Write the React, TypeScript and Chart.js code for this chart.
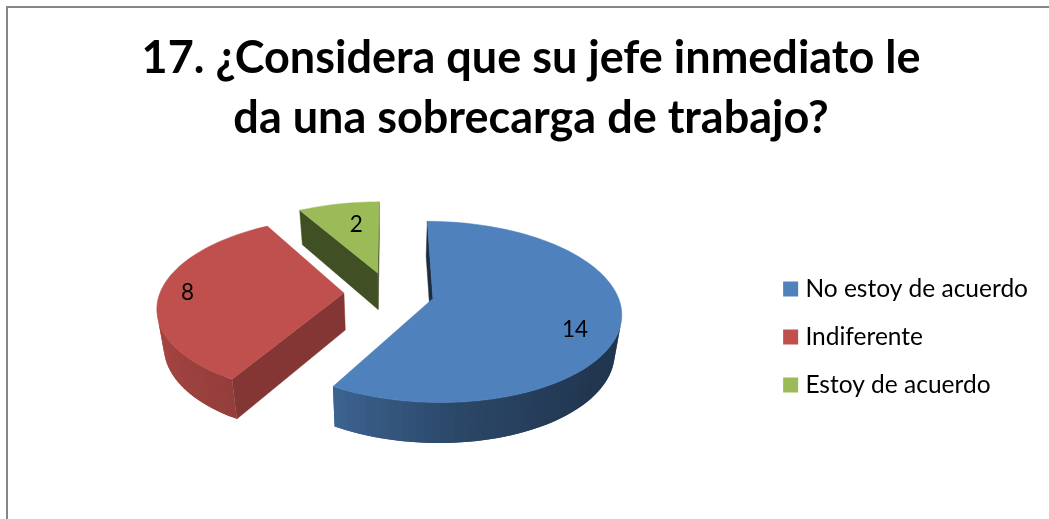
import React, { useEffect, useRef } from "react";
import { Chart, registerables } from "chart.js";

Chart.register(...registerables);

const titleLines = ["17. ¿Considera que su jefe inmediato le", "da una sobrecarga de trabajo?"];
const categories = ["No estoy de acuerdo", "Indiferente", "Estoy de acuerdo"];
const values = [14, 8, 2];
const colors = ["#4f81bd", "#c0504d", "#9bbb59"];

const radialShade = [0.35, 0.68, 0.42];
const labelRadius = [0.79, 0.85, 0.66];
const labelTurn = [10, 0, 3];
const drawOrder = [2, 1, 0];
const curveShade: [number, number][] = [
  [90, 0.42], [130, 0.42], [150, 0.47], [175, 0.55], [210, 0.77], [240, 0.84], [270, 0.9], [360, 0.9],
];

const ORIGIN = 8;
const CX = 389, CY = 293, RX = 184, RY = 87, PERSPECTIVE = 0.146, EXPLODE = 0.245, DEPTH = 37, BASE = 0.97;
const FONT = "Lato";

type Pt = [number, number];

function project(u: number, v: number, bottom: boolean): Pt {
  const w = 1 - PERSPECTIVE * v;
  const s = bottom ? BASE : 1;
  return [CX + (RX * s * u) / w - ORIGIN, CY + (RY * s * v + (bottom ? DEPTH : 0)) / w - ORIGIN];
}

function shadeFor(deg: number) {
  for (let i = 1; i < curveShade.length; i++) {
    const [a, fa] = curveShade[i - 1];
    const [b, fb] = curveShade[i];
    if (deg <= b) return fa + ((fb - fa) * Math.max(0, deg - a)) / (b - a);
  }
  return 0.9;
}

function tint(hex: string, f: number) {
  const n = parseInt(hex.slice(1), 16);
  return `rgb(${Math.round((n >> 16) * f)},${Math.round(((n >> 8) & 255) * f)},${Math.round((n & 255) * f)})`;
}

function fillPoly(ctx: CanvasRenderingContext2D, pts: Pt[], color: string, stroke = true) {
  ctx.beginPath();
  pts.forEach((p, i) => (i ? ctx.lineTo(p[0], p[1]) : ctx.moveTo(p[0], p[1])));
  ctx.closePath();
  ctx.fillStyle = color;
  ctx.fill();
  if (stroke) {
    ctx.strokeStyle = color;
    ctx.lineWidth = 0.5;
    ctx.stroke();
  }
}

function area(p: Pt[]) {
  let s = 0;
  p.forEach((a, i) => {
    const b = p[(i + 1) % p.length];
    s += a[0] * b[1] - b[0] * a[1];
  });
  return s;
}

const pie3d = {
  id: "pie3d",
  beforeDatasetsDraw(chart: any) {
    const ctx: CanvasRenderingContext2D = chart.ctx;
    const arcs = chart.getDatasetMeta(0).data;
    const sliceInfo = arcs.map((arc: any) => {
      const s = arc.startAngle + Math.PI / 2;
      const e = arc.endAngle + Math.PI / 2;
      const mid = (s + e) / 2;
      return { s, e, mid, ou: EXPLODE * Math.sin(mid), ov: -EXPLODE * Math.cos(mid) };
    });
    for (const i of drawOrder) {
      const { s, e, ou, ov } = sliceInfo[i];
      const color = colors[i];
      const at = (t: number, bottom: boolean) => project(ou + Math.sin(t), ov - Math.cos(t), bottom);
      const apex = (bottom: boolean) => project(ou, ov, bottom);
      const quad = (a: (b: boolean) => Pt, b: (b: boolean) => Pt): Pt[] => [a(false), b(false), b(true), a(true)];
      const n = Math.ceil(((e - s) * 180) / Math.PI / 2);
      const edgeAt = (t: number) => (bottom: boolean) => at(t, bottom);

      const r1 = quad(apex, edgeAt(s));
      const r2 = quad(edgeAt(e), apex);
      if (area(r1) < 0) fillPoly(ctx, r1, tint(color, radialShade[i]));
      if (area(r2) < 0) fillPoly(ctx, r2, tint(color, radialShade[i]));
      for (let k = 0; k < n; k++) {
        const step = (e - s) / n;
        const t1 = s + step * k;
        const t2 = s + step * (k + 1);
        const q = quad(edgeAt(t1), edgeAt(t2));
        if (area(q) >= 0) continue;
        const deg = (((t1 + t2) / 2) * 180) / Math.PI;
        const wide = k < n - 1 ? quad(edgeAt(t1), edgeAt(t2 + step)) : q;
        fillPoly(ctx, wide, tint(color, shadeFor(deg)), false);
      }
      const top: Pt[] = [apex(false)];
      for (let k = 0; k <= n; k++) top.push(at(s + ((e - s) * k) / n, false));
      fillPoly(ctx, top, color);
    }
    ctx.fillStyle = "#000";
    ctx.font = `22.5px ${FONT}`;
    ctx.textAlign = "center";
    ctx.textBaseline = "middle";
    sliceInfo.forEach((sl: any, i: number) => {
      const t = sl.mid + (labelTurn[i] * Math.PI) / 180;
      const r = labelRadius[i];
      const p = project(sl.ou + r * Math.sin(t), sl.ov - r * Math.cos(t), false);
      ctx.fillText(String(values[i]), p[0], p[1]);
    });
    return false;
  },
};

export default function App() {
  const ref = useRef<HTMLCanvasElement>(null);
  useEffect(() => {
    document.body.style.margin = "0";
    document.body.style.overflow = "hidden";
    const chart = new Chart(ref.current!, {
      type: "pie",
      data: { labels: categories, datasets: [{ data: values, backgroundColor: colors, borderWidth: 0 }] },
      options: {
        responsive: false,
        animation: false,
        layout: { padding: { left: 16, right: 16, bottom: 3 } },
        plugins: {
          title: {
            display: true,
            text: titleLines,
            color: "#000",
            font: { family: FONT, size: 45, weight: "bold", lineHeight: 60 / 45 },
            padding: { top: 20, bottom: 10 },
          },
          legend: {
            position: "right",
            fullSize: false,
            labels: {
              usePointStyle: true,
              pointStyle: "rect",
              boxWidth: 5,
              boxHeight: 15,
              padding: 23.5,
              color: "#000",
              font: { family: FONT, size: 24.5 },
            },
          },
          tooltip: { enabled: false },
        },
      },
      plugins: [pie3d],
    } as any);
    return () => chart.destroy();
  }, []);
  return (
    <div
      style={{
        position: "fixed",
        left: 6,
        top: 6,
        width: 1043,
        height: 513,
        boxSizing: "border-box",
        borderLeft: "2px solid #868686",
        borderTop: "2px solid #868686",
        background: "#fff",
        overflow: "hidden",
      }}
    >
      <canvas ref={ref} width={1046} height={511} style={{ display: "block" }} />
    </div>
  );
}
